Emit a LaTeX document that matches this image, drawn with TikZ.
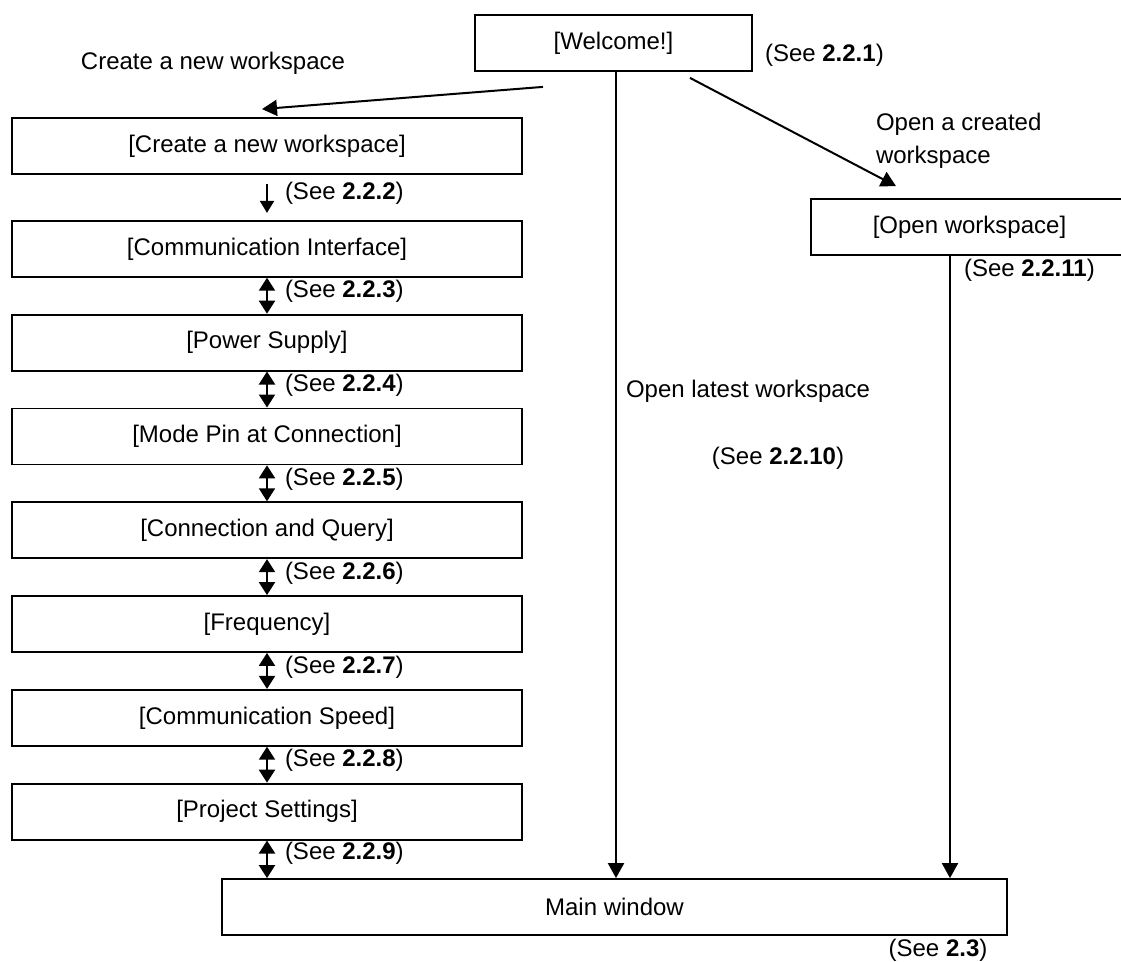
\documentclass[tikz,border=0pt]{standalone}
\usepackage{fontspec}
\setmainfont{Liberation Sans}
\usetikzlibrary{positioning,arrows.meta}
\tikzset{screen node/.style={rectangle,draw,line width=1.8pt,minimum height=56pt,inner sep=0pt},
  plain text/.style={inner sep=0pt},
  see label/.style={anchor=west,inner sep=0pt,xshift=17pt,yshift=4pt},
  both way/.style={{Triangle[length=13pt,width=16pt]}-{Triangle[length=13pt,width=16pt]}},
  one way/.style={-{Triangle[length=15pt,width=16pt]}},
}

\begin{document}
\begin{tikzpicture}[x=1pt,y=-1pt,node distance=36pt,line width=2pt,font=\fontsize{24}{33}\selectfont]
	\useasboundingbox (0,0) rectangle (1121,961);
	\node[screen node,minimum width=277pt] (welcome) at (613.5,43) {[Welcome!]};
	\node[screen node,minimum width=510pt] (create) at (267,146) {[Create a new workspace]};
	\node[screen node,minimum width=510pt] (comm)[below=45pt of create] {[Communication Interface]};
	\node[screen node,minimum width=510pt] (power)[below = of comm] {[Power Supply]};
	\node[screen node,minimum width=510pt] (mode)[below = of power] {[Mode Pin at Connection]};
	\node[screen node,minimum width=510pt] (query)[below = of mode] {[Connection and Query]};
	\node[screen node,minimum width=510pt] (freq)[below = of query] {[Frequency]};
	\node[screen node,minimum width=510pt] (speed)[below = of freq] {[Communication Speed]};
	\node[screen node,minimum width=510pt] (proj)[below = of speed] {[Project Settings]};
	\node[screen node,minimum width=317pt] (open) at (969.5,227) {[Open workspace]};
	\node[screen node,minimum width=785pt] (main) at (614.5,907) {Main window};
	
	\node[plain text] (newlbl) at (213,63) {Create a new workspace};
	\node[plain text,anchor=west] (see1) at (764,55) {(See \textbf{2.2.1})};
	\node[plain text,anchor=west,align=left] (openlbl) at (875,140.5) {Open a created\\workspace};
	\node[plain text,anchor=west] (see11) at (963,270) {(See \textbf{2.2.11})};
	\node[plain text,anchor=west] (latest) at (625,391) {Open latest workspace};
	\node[plain text] (see10) at (778,458) {(See \textbf{2.2.10})};
	\node[plain text] (see3) at (938,950) {(See \textbf{2.3})};
	
	\path[draw]
	(create) edge[-{Triangle[length=12pt,width=14pt]},shorten <=9pt,shorten >=7pt] node[see label] {(See \textbf{2.2.2})} (comm)
	(comm) edge[both way] node[see label] {(See \textbf{2.2.3})} (power)
	(power) edge[both way] node[see label] {(See \textbf{2.2.4})} (mode)
	(mode) edge[both way] node[see label] {(See \textbf{2.2.5})} (query)
	(query) edge[both way] node[see label] {(See \textbf{2.2.6})} (freq)
	(freq) edge[both way] node[see label] {(See \textbf{2.2.7})} (speed)
	(speed) edge[both way] node[see label] {(See \textbf{2.2.8})} (proj)
	(proj.south) edge[both way] node[see label,yshift=2pt] {(See \textbf{2.2.9})} (proj.south |- main.north)
	([xshift=-70.5pt,yshift=-15pt]welcome.south) edge[one way] ([xshift=-5pt,yshift=8pt]create.north)
	([xshift=76.5pt,yshift=-6pt]welcome.south) edge[one way] ([xshift=-73.5pt,yshift=12pt]open.north)
	([xshift=2.5pt]welcome.south) edge[one way] ([xshift=2.5pt]welcome.south |- main.north)
	([xshift=-19.5pt]open.south) edge[one way] ([xshift=-19.5pt]open.south |- main.north);
\end{tikzpicture}
\end{document}
